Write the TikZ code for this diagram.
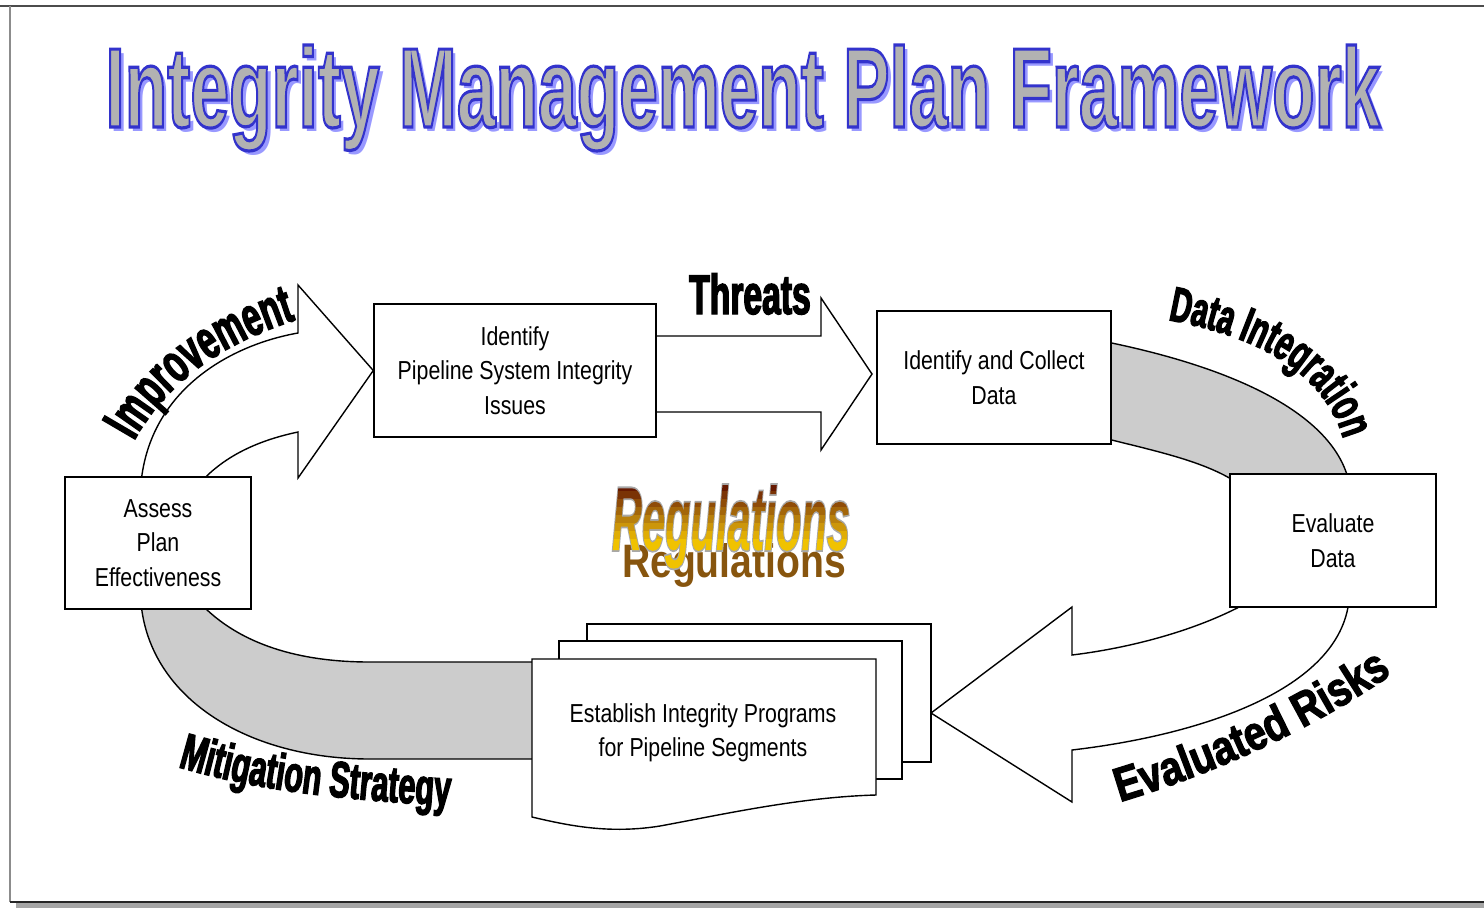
\documentclass[tikz,border=0pt]{standalone}
\usepackage{fontspec}
\usepackage{graphicx}
\setmainfont{Liberation Sans}
\newfontfamily\boxfont{Liberation Sans}[FakeStretch=0.82]
\newfontfamily\lblfont{Liberation Sans}[FakeStretch=0.6,FakeBold=2.5]
\newfontfamily\lblwide{Liberation Sans}[FakeStretch=0.82,FakeBold=2.5]
\usetikzlibrary{calc,decorations.text}

\definecolor{bandgrey}{HTML}{CCCCCC}
\definecolor{ttlfill}{HTML}{B2B2B2}
\definecolor{ttlshadow}{HTML}{9999FF}
\definecolor{regshadow}{HTML}{87550E}

\pgfdeclarelayer{background}
\pgfsetlayers{background,main}

% title lettering: grey fill with a blue stroked rim (text render mode 2)
\newcommand\ttlplain{\resizebox{637.5pt}{41pt}{\bfseries Integrity Management Plan Framework}}
\newcommand\ttlrim{\resizebox{637.5pt}{41pt}{%
  \special{pdf:literal 0.2 0.2 0.8 RG 0.28 w 2 Tr}%
  \bfseries Integrity Management Plan Framework%
  \special{pdf:literal 0 Tr}}}
% word art: grey rim, text used as clip for brown-to-gold bands (render mode 6)
\newcommand\regword{\resizebox{119pt}{32.5pt}{%
  \special{pdf:literal 0.66 0.66 0.66 RG 0.4 w 6 Tr}%
  \rlap{\bfseries\itshape Regulations}%
  \special{pdf:literal 0 Tr
    0.40 0.10 0.00 rg -2 6.6 64 2 re f
    0.48 0.20 0.02 rg -2 5.7 64 0.9 re f
    0.56 0.30 0.03 rg -2 4.8 64 0.9 re f
    0.64 0.40 0.04 rg -2 3.9 64 0.9 re f
    0.72 0.50 0.05 rg -2 3.0 64 0.9 re f
    0.80 0.59 0.04 rg -2 2.1 64 0.9 re f
    0.88 0.68 0.02 rg -2 1.2 64 0.9 re f
    0.94 0.76 0.00 rg -2 -3 64 4.2 re f}%
  \phantom{\bfseries\itshape Regulations}}}

\tikzset{
  box/.style={draw, fill=white, line width=0.7pt, align=center, inner sep=0pt,
    font=\boxfont\fontsize{13pt}{17.25pt}\selectfont},
  ttl/.style={anchor=base west, inner sep=0pt},
  reg/.style={anchor=base, inner sep=0pt},
  page/.style={draw, fill=white, line width=0.7pt, inner sep=0pt},
  outlinepath/.style={draw, line width=0.7pt, line join=miter},
  curvedlabel/.style={decorate, decoration={text along path, text align=left, text={#1}}}
}

\begin{document}
\begin{tikzpicture}[x=0.5pt, y=-0.5pt]
\useasboundingbox (0,0) rectangle (1484,907);

% slide frame
\draw[line width=1pt, black!70] (0,6) -- (1484,6);
\draw[line width=1pt, black!45] (10,6) -- (10,902);
\draw[line width=2.5pt, black!35] (16,905.5) -- (1484,905.5);
\draw[line width=1pt, black!85] (10,902) -- (1484,902);

% title with offset shadow
\node[ttl, text=ttlshadow] (ttlshadow) at (109,131) {\ttlplain};
\node[ttl, text=ttlfill] (title) at (105,127) {\ttlrim};

% boxes
\node[box, minimum width=141pt, minimum height=66.5pt] (ida) at (515,370.5) {Identify\\Pipeline System Integrity\\Issues};
\node[box, minimum width=117pt, minimum height=66.5pt] (idb) at (994,377.5) {Identify and Collect\\Data};
\node[box, minimum width=103pt, minimum height=66.5pt] (evd) at (1333,540.5) {Evaluate\\Data};
\node[box, minimum width=93pt, minimum height=66pt] (asp) at (158,543) {Assess\\Plan\\Effectiveness};

\begin{pgfonlayer}{background}
% grey band: data integration
\path[fill=bandgrey] (idb.east |- 0,343) .. controls (1250,372) and (1335,420) .. (1349,482)
  -- (1236,482) .. controls (1205,462) and (1160,452) .. (idb.east |- 0,440) -- cycle;
\draw[line width=0.7pt] (idb.east |- 0,343) .. controls (1250,372) and (1335,420) .. (1349,482);
\draw[line width=0.7pt] (idb.east |- 0,440) .. controls (1160,452) and (1205,462) .. (1236,482);

% curved arrow: improvement
\draw[outlinepath, fill=white] (141,483) .. controls (150,390) and (230,345) .. (298,333)
  -- (298,285) -- (ida.west) -- (298,478) -- (298,432)
  .. controls (260,440) and (225,455) .. (200,483);

% straight arrow: threats
\draw[outlinepath, fill=white] (ida.east |- 0,336) -- (821,336) -- (821,298) -- (872,374)
  -- (821,450) -- (821,412) -- (ida.east |- 0,412);

% curved arrow: evaluated risks
\draw[outlinepath, fill=white] (1349,600) .. controls (1340,690) and (1200,735) .. (1072,750)
  -- (1072,802) -- (931,713) -- (1072,607) -- (1072,655)
  .. controls (1130,648) and (1200,630) .. (1252,600);

% grey band: mitigation strategy
\path[fill=bandgrey] (200,603) .. controls (240,645) and (300,662) .. (370,662) -- (545,662)
  -- (545,759) -- (370,759) .. controls (250,759) and (150,700) .. (141,603) -- cycle;
\draw[line width=0.7pt] (200,603) .. controls (240,645) and (300,662) .. (370,662) -- (545,662);
\draw[line width=0.7pt] (141,603) .. controls (150,700) and (250,759) .. (370,759) -- (545,759);
\end{pgfonlayer}

% stacked program pages
\node[page, minimum width=172pt, minimum height=69pt] (pg3) at (759,693) {};
\node[page, minimum width=171.5pt, minimum height=69pt] (pg2) at (730.5,710) {};
\draw[outlinepath, fill=white] (532,659) -- (876,659) -- (876,795)
  .. controls (800,797) and (720,815) .. (660,826)
  .. controls (610,834) and (570,826) .. (532,817) -- cycle;
\node[align=center, inner sep=0pt, font=\boxfont\fontsize{13pt}{17.25pt}\selectfont] (est) at (703,733) {Establish Integrity Programs\\for Pipeline Segments};

% regulations word art with its flattened shadow
\node[reg, text=regshadow] (regshadow) at (734,577) {\resizebox{112pt}{17pt}{\bfseries Regulations}};
\node[reg, text=black] (regulations) at (731,550) {\regword};

% bold labels
\node[inner sep=0pt, font=\lblfont\bfseries\fontsize{28pt}{28pt}\selectfont] (thr) at (750,294) {Threats};
\path[curvedlabel={|\lblfont\bfseries\fontsize{27.5pt}{27.5pt}\selectfont|Improvement}]
  (134,441) .. controls (166,384) and (218,344) .. (302,318) -- (380,300);
\path[curvedlabel={|\lblfont\bfseries\fontsize{24.5pt}{24.5pt}\selectfont|Data Integration}]
  (1168,320) .. controls (1250,335) and (1314,366) .. (1339,426) -- (1357,478);
\path[curvedlabel={|\lblwide\bfseries\fontsize{24pt}{24pt}\selectfont|Evaluated Risks}]
  (1120,802) .. controls (1220,772) and (1320,725) .. (1395,672) -- (1450,635);
\path[curvedlabel={|\lblfont\bfseries\fontsize{25.5pt}{25.5pt}\selectfont|Mitigation Strategy}]
  (178,767) .. controls (240,785) and (300,797) .. (450,806) -- (520,810);
\end{tikzpicture}
\end{document}
